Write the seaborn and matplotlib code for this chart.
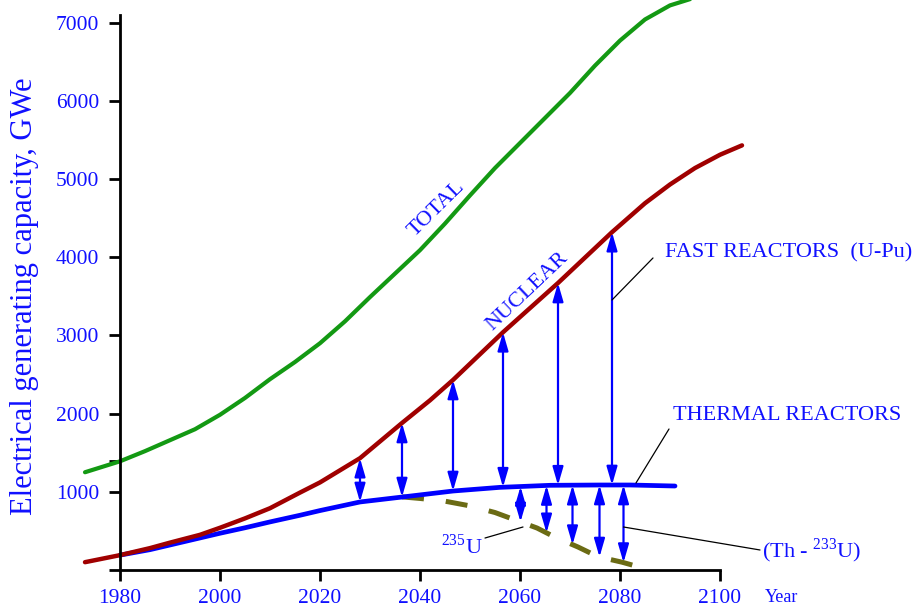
import numpy as np
import matplotlib
matplotlib.use('Agg')
import matplotlib.pyplot as plt
import seaborn as sns

#-------------data-------------#
total_years = [1973, 1980, 1985, 1990, 1995, 2000, 2005, 2010, 2015, 2020, 2025, 2030, 2035,
               2040, 2045, 2050, 2055, 2060, 2065, 2070, 2075, 2080, 2085, 2090, 2094]
total_gwe = [1250, 1390, 1520, 1660, 1800, 1985, 2200, 2440, 2660, 2900, 3180, 3490, 3790,
             4090, 4430, 4790, 5140, 5460, 5780, 6100, 6450, 6770, 7040, 7220, 7300]

nuclear_years = [1973, 1980, 1986, 1990, 1996, 2000, 2005, 2010, 2016, 2020, 2028, 2036.4, 2042,
                 2046.6, 2056.6, 2067.6, 2078.4, 2085, 2090, 2095, 2100, 2104.4]
nuclear_gwe = [100, 190, 280, 350, 450, 540, 660, 790, 990, 1120, 1430, 1880, 2170,
               2430, 3040, 3670, 4320, 4690, 4930, 5140, 5310, 5430]

thermal_years = [1980, 1986, 1990, 1996, 2000, 2005, 2010, 2016, 2020, 2028, 2036.4, 2046.6,
                 2056, 2066, 2076, 2082, 2091]
thermal_gwe = [190, 260, 320, 410, 470, 540, 615, 700, 760, 870, 933, 1010,
               1057, 1083, 1087, 1087, 1074]

u235_years = [2036.4, 2040, 2045, 2050, 2055, 2058.6, 2063.4, 2067, 2071.6, 2075.6, 2080.4, 2084.6]
u235_gwe = [935, 915, 880, 820, 735, 650, 537, 420, 294, 170, 100, 25]

fast_arrow_years = [2028, 2036.4, 2046.6, 2056.6, 2067.6, 2078.4]
th233_arrow_years = [2060.1, 2065.3, 2070.5, 2075.9, 2080.7]

x_ticks = [1980, 2000, 2020, 2040, 2060, 2080, 2100]
y_ticks = [0, 1000, 2000, 3000, 4000, 5000, 6000, 7000]
y_ticklabels = ['', '1000', '2000', '3000', '4000', '5000', '6000', '7000']

#-------------style-------------#
sns.set_style('white')
plt.rcParams['font.family'] = ['Liberation Serif', 'DejaVu Serif']
plt.rcParams['mathtext.fontset'] = 'custom'
plt.rcParams['mathtext.rm'] = 'Liberation Serif'

BLUE = '#1010ff'
GREEN = '#139913'
RED = '#a00000'
OLIVE = '#6b6b14'

fig = plt.figure(figsize=(9.18, 6.09), dpi=100)
ax = fig.add_axes([0, 0, 1, 1])

sns.lineplot(x=u235_years, y=u235_gwe, ax=ax, color=OLIVE, linewidth=3.6)
ax.lines[-1].set_dashes([4.4, 4.4])
sns.lineplot(x=thermal_years, y=thermal_gwe, ax=ax, color='blue', linewidth=3.4)
sns.lineplot(x=nuclear_years, y=nuclear_gwe, ax=ax, color=RED, linewidth=3.2)
sns.lineplot(x=total_years, y=total_gwe, ax=ax, color=GREEN, linewidth=3.0)

# double arrows: thermal -> nuclear (fast reactors), u235 -> thermal (Th-233U)
arrow_style = dict(arrowstyle='<|-|>,head_length=0.55,head_width=0.16', color='blue', lw=1.6,
                   mutation_scale=20, shrinkA=0, shrinkB=0)
for yr in fast_arrow_years:
    top = np.interp(yr, nuclear_years, nuclear_gwe)
    bot = np.interp(yr, thermal_years, thermal_gwe)
    ax.annotate('', xy=(yr, top), xytext=(yr, bot), arrowprops=arrow_style)
for yr in th233_arrow_years:
    top = np.interp(yr, thermal_years, thermal_gwe)
    bot = np.interp(yr, u235_years, u235_gwe)
    ax.annotate('', xy=(yr, bot), xytext=(yr, top), arrowprops=arrow_style)

# leader lines
lead = dict(arrowstyle='-', color='black', lw=0.9, shrinkA=0, shrinkB=0)
ax.annotate('', xy=(2078.4, 3453), xytext=(2086.6, 3990), arrowprops=lead)
ax.annotate('', xy=(2083.2, 1113), xytext=(2089.8, 1803), arrowprops=lead)
ax.annotate('', xy=(2080.7, 550), xytext=(2108, 256), arrowprops=lead)
ax.annotate('', xy=(2053, 409), xytext=(2060.6, 550), arrowprops=lead)

# labels
ax.text(2089, 4054, 'FAST REACTORS  (U-Pu)', color=BLUE, fontsize=16, ha='left', va='center')
ax.text(2090.6, 1982, 'THERMAL REACTORS', color=BLUE, fontsize=16, ha='left', va='center')
ax.text(2108.4, 243, r'(Th - $^{233}$U)', color=BLUE, fontsize=16, ha='left', va='center')
ax.text(2052.6, 300, r'$^{235}$U', color=BLUE, fontsize=16, ha='right', va='center')
ax.text(2043.4, 4616, 'TOTAL', color=BLUE, fontsize=16, ha='center', va='center',
        rotation=44.5, rotation_mode='anchor')
ax.text(2061.4, 3555, 'NUCLEAR', color=BLUE, fontsize=16, ha='center', va='center',
        rotation=43.5, rotation_mode='anchor')

#-------------axes-------------#
ax.set_xlim(1956, 2139.6)
ax.set_ylim(-498.7, 7289)
ax.patch.set_visible(False)
for s in ['top', 'right']:
    ax.spines[s].set_visible(False)
ax.spines['left'].set_position(('data', 1980))
ax.spines['bottom'].set_position(('data', 0))
ax.spines['left'].set_bounds(0, 7100)
ax.spines['bottom'].set_bounds(1980, 2100)
for s in ['left', 'bottom']:
    ax.spines[s].set_linewidth(2)
    ax.spines[s].set_color('black')

ax.set_xticks(x_ticks)
ax.set_xticklabels([str(t) for t in x_ticks])
ax.set_yticks(y_ticks)
ax.set_yticklabels(y_ticklabels)
ax.set_yticks([1400], minor=True)
ax.tick_params(axis='both', which='major', direction='out', length=8, width=2,
               labelsize=15.5, labelcolor=BLUE, color='black')
ax.tick_params(axis='x', pad=6, bottom=True)
ax.tick_params(axis='y', pad=7, left=True)
ax.tick_params(axis='y', which='minor', direction='out', length=8, width=2, left=True, color='black')
ax.set_xlabel('')
ax.set_ylabel('')

fig.text(782 / 918, 1 - 598 / 609, 'Year', color=BLUE, fontsize=13, ha='center', va='center')
fig.text(25 / 918, 1 - 296 / 609, 'Electrical generating capacity, GWe', color=BLUE,
         fontsize=22, rotation=90, ha='center', va='center')

fig.savefig('out.png', dpi=100)
